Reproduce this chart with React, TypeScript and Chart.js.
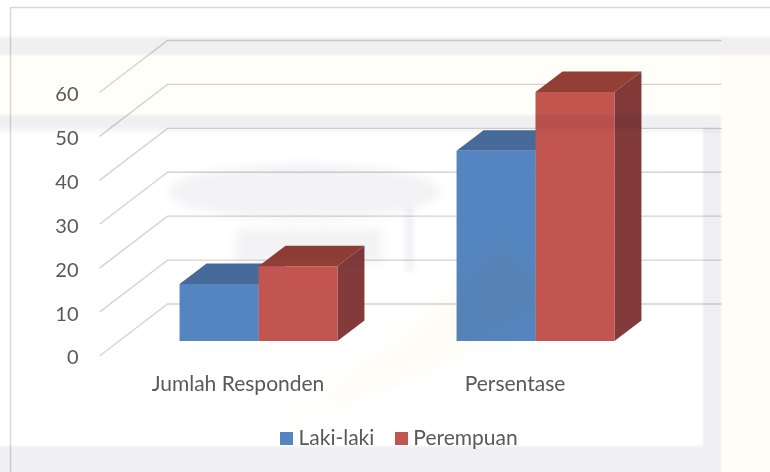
import React, { useEffect, useRef } from "react";
import { Chart, registerables } from "chart.js";

Chart.register(...registerables);

const categories = ["Jumlah Responden", "Persentase"];
const lakiLaki = [13, 43.3];
const perempuan = [17, 56.7];
const seriesNames = ["Laki-laki", "Perempuan"];
const frontColors = ["#5585c0", "#c35551"];
const topColors = ["#466b9b", "#943f37"];
const sideColors = ["#466b9b", "#823a3a"];
const TEXT = "#595959";
const FONT = "Lato";
const FONT_SIZE = 21;
const TICK_SIZE = 20;
const WALL_DX = 68;
const WALL_DY = -52;
const BAR_SHIFT_X = 20.5;
const BAR_SHIFT_Y = -15;
const BAR_DX = 27;
const BAR_DY = -20.5;

const swatch = (color: string) => {
  const c = document.createElement("canvas");
  c.width = 13;
  c.height = 13;
  const x = c.getContext("2d")!;
  x.fillStyle = color;
  x.fillRect(0, 0, 13, 13);
  return c;
};

const poly = (ctx: CanvasRenderingContext2D, pts: number[][], fill: string) => {
  ctx.beginPath();
  pts.forEach((p, i) => (i ? ctx.lineTo(p[0], p[1]) : ctx.moveTo(p[0], p[1])));
  ctx.closePath();
  ctx.fillStyle = fill;
  ctx.fill();
};

const scene3d = {
  id: "scene3d",
  beforeDraw(chart: any) {
    const { ctx, width, height } = chart;
    ctx.save();
    ctx.fillStyle = "#ffffff";
    ctx.fillRect(0, 0, width, height);
    ctx.strokeStyle = "#d9d9d9";
    ctx.lineWidth = 1.5;
    ctx.beginPath();
    ctx.moveTo(10.5, height);
    ctx.lineTo(10.5, 7.5);
    ctx.lineTo(width, 7.5);
    ctx.stroke();
    ctx.restore();
  },
  afterLayout(chart: any) {
    const lg = chart.legend;
    const pad = lg.options.labels.padding;
    const w = lg.right - lg.left;
    const h = lg.bottom - lg.top;
    lg.left = 285 - pad;
    lg.right = lg.left + w;
    lg.top = 440.5 - pad - FONT_SIZE * 0.6;
    lg.bottom = lg.top + h;
  },
  beforeDatasetsDraw(chart: any) {
    const { ctx, chartArea, scales } = chart;
    ctx.save();
    ctx.strokeStyle = "#d4d4d4";
    ctx.lineWidth = 1.4;
    scales.y.ticks.forEach((t: any) => {
      const y = scales.y.getPixelForValue(t.value);
      ctx.beginPath();
      ctx.moveTo(chartArea.left, y);
      ctx.lineTo(chartArea.left + WALL_DX, y + WALL_DY);
      ctx.lineTo(chartArea.right + WALL_DX, y + WALL_DY);
      ctx.stroke();
    });
    ctx.translate(BAR_SHIFT_X, BAR_SHIFT_Y);
    chart.data.datasets.forEach((_: any, di: number) => {
      chart.getDatasetMeta(di).data.forEach((bar: any) => {
        const l = bar.x - bar.width / 2;
        const r = bar.x + bar.width / 2;
        const t = bar.y;
        const b = bar.base;
        poly(ctx, [[l, t], [r, t], [r + BAR_DX, t + BAR_DY], [l + BAR_DX, t + BAR_DY]], topColors[di]);
        poly(ctx, [[r, t], [r + BAR_DX, t + BAR_DY], [r + BAR_DX, b + BAR_DY], [r, b]], sideColors[di]);
      });
    });
  },
  afterDatasetsDraw(chart: any) {
    chart.ctx.restore();
  },
  afterDraw(chart: any) {
    const { ctx, width, height } = chart;
    const gray = "#f0f0f2";
    const pale = "#f3f3f5";
    const cream = "#fffdf5";
    ctx.save();
    ctx.globalCompositeOperation = "multiply";
    const rect = (x: number, y: number, w: number, h: number, c: string) => {
      ctx.fillStyle = c;
      ctx.fillRect(x, y, w, h);
    };
    ctx.filter = "blur(1px)";
    rect(-5, 37, width + 10, 18, gray);
    rect(-5, 55, 726, 60, "#fffef8");
    rect(721, 55, 55, height, cream);
    rect(-5, 115, 726, 13, gray);
    rect(-5, 128, 726, 5, "#f8f8f9");
    rect(703, 128, 18, height, gray);
    rect(-5, 446, 708, 40, gray);
    ctx.filter = "blur(5px)";
    ctx.fillStyle = pale;
    ctx.beginPath();
    ctx.ellipse(305, 192, 136, 28, 0, 0, Math.PI * 2);
    ctx.fill();
    rect(236, 229, 146, 34, pale);
    ctx.filter = "blur(2px)";
    rect(405, 208, 9, 64, pale);
    ctx.filter = "blur(8px)";
    poly(ctx, [[290, 420], [400, 340], [500, 240], [560, 300], [450, 360]], "#fffcf5");
    ctx.restore();
  },
};

export default function App() {
  const ref = useRef<HTMLCanvasElement>(null);
  useEffect(() => {
    const chart = new Chart(ref.current!, {
      type: "bar",
      data: {
        labels: categories,
        datasets: [
          { label: seriesNames[0], data: lakiLaki, backgroundColor: frontColors[0] },
          { label: seriesNames[1], data: perempuan, backgroundColor: frontColors[1] },
        ],
      },
      options: {
        animation: false,
        responsive: false,
        devicePixelRatio: 1,
        layout: { padding: { top: 92.5, right: 116.5, left: 0, bottom: 0 } },
        datasets: { bar: { barPercentage: 1, categoryPercentage: 0.57 } },
        scales: {
          x: {
            grid: { display: false },
            border: { display: false },
            ticks: { color: TEXT, font: { family: FONT, size: FONT_SIZE }, padding: 8, maxRotation: 0 },
            afterFit(s: any) {
              s.height = 116 - (s.chart.legend ? s.chart.legend.height : 0);
            },
          },
          y: {
            min: 0,
            max: 60,
            grid: { display: false },
            border: { display: false },
            ticks: { stepSize: 10, color: TEXT, font: { family: FONT, size: TICK_SIZE }, padding: 13, labelOffset: 2 },
            afterFit(s: any) {
              s.width = 99.5;
            },
          },
        },
        plugins: {
          tooltip: { enabled: false },
          legend: {
            position: "bottom",
            align: "start",
            labels: {
              usePointStyle: true,
              pointStyleWidth: 3,
              padding: 25.5,
              color: TEXT,
              font: { family: FONT, size: FONT_SIZE },
              generateLabels: () =>
                seriesNames.map((text, i) => ({
                  text,
                  pointStyle: swatch(frontColors[i]),
                  fontColor: TEXT,
                  datasetIndex: i,
                  hidden: false,
                  lineWidth: 0,
                })),
            },
          },
        },
      } as any,
      plugins: [scene3d],
    } as any);
    return () => chart.destroy();
  }, []);
  return (
    <div style={{ position: "absolute", left: 0, top: 0, width: 770, height: 472, overflow: "hidden" }}>
      <canvas ref={ref} width={770} height={472} style={{ display: "block" }} />
    </div>
  );
}
